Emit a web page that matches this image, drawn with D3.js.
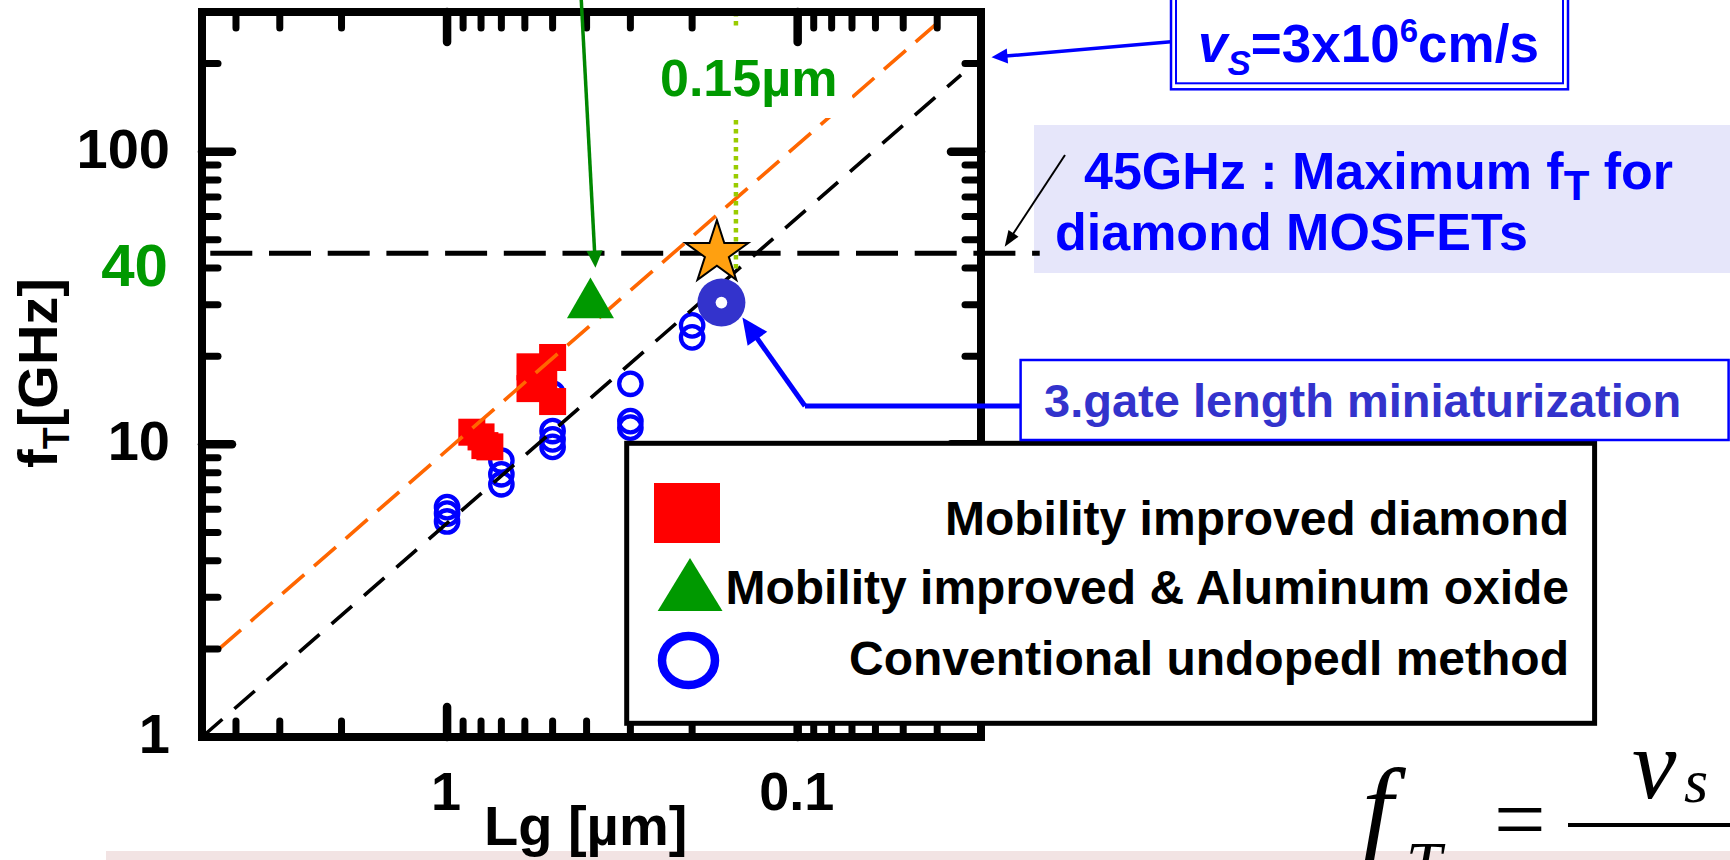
<!DOCTYPE html>
<html>
<head>
<meta charset="utf-8">
<script src="https://cdn.jsdelivr.net/npm/d3@7"></script>
<style>
  html, body { margin: 0; padding: 0; background: #ffffff; }
  svg { display: block; }
  text { font-family: "Liberation Sans", Arial, Helvetica, sans-serif; font-weight: bold; }
  .serif { font-family: "Liberation Serif", "Times New Roman", serif; font-weight: normal; font-style: italic; }
</style>
</head>
<body>
<svg id="chart" width="1730" height="860"></svg>
<script>
// ---------------- data ----------------
// gate length Lg [µm] and cut-off frequency fT [GHz]
const xTickValues = [1, 0.1];
const xTickLabels = ["1", "0.1"];
const yTickValues = [1, 10, 100];
const yTickLabels = ["1", "10", "100"];
const yMarkValue = 40;
const yMarkLabel = "40";

const seriesNames = [
  "Mobility improved diamond",
  "Mobility improved & Aluminum oxide",
  "Conventional undopedl method"
];

// conventional undoped devices (open circles)
const conventionalLg = [1, 1, 1, 0.7, 0.7, 0.7, 0.5, 0.5, 0.5, 0.5, 0.3, 0.3, 0.3, 0.2, 0.2];
const conventionalFt = [6.1, 5.8, 5.45, 8.8, 7.9, 7.3, 14.9, 11.1, 10.4, 9.8, 16.1, 12.0, 11.4, 25.5, 23.2];

// mobility improved diamond (filled squares)
const improvedLg = [0.85, 0.80, 0.78, 0.755, 0.58, 0.58, 0.53, 0.50, 0.50];
const improvedFt = [11.0, 10.6, 9.9, 9.8, 18.4, 15.5, 16.9, 19.8, 14.0];

// mobility improved + Al2O3 (triangle)
const aluminaLg = [0.39];
const aluminaFt = [30];

// gate length miniaturization result (filled disc)
const recordLg = [0.165];
const recordFt = [30.5];

// target device (star)
const targetLg = [0.17];
const targetFt = [45];

// maximum fT level and the 0.15 µm gate length marker
const maxFt = 45;
const maxFtLgRange = [5, 0.0204];
const gateMarkLg = 0.15;
const gateMarkFtRange = [300, 38.5];

// saturation-velocity guide lines
const vsLineLg = [5, 0.0342];
const vsLineFt = [1, 183];
const upperLineLg = [4.47, 0.0393];
const upperLineFt = [2, 280];

// ---------------- layout ----------------
const svg = d3.select("#chart");
const plot = { left: 202, right: 981, top: 12, bottom: 737 };

const x = d3.scaleLog().domain([5, 0.03]).range([plot.left, plot.right]);
const y = d3.scaleLog().domain([1, 300]).range([plot.bottom, plot.top]);

const BLUE = "#0000ff", SLATE = "#3333cc", RED = "#ff0000", GREEN = "#009900",
      ORANGE = "#ff6600", STAR = "#ffa010", LIME = "#99cc00";

function arrow(g, x1, y1, x2, y2, o) {
  const dx = x2 - x1, dy = y2 - y1, L = Math.hypot(dx, dy);
  const ux = dx / L, uy = dy / L;
  const bx = x2 - ux * o.head, by = y2 - uy * o.head;
  g.append("line")
    .attr("x1", x1).attr("y1", y1)
    .attr("x2", bx + ux * 2).attr("y2", by + uy * 2)
    .attr("stroke", o.color).attr("stroke-width", o.sw);
  g.append("path")
    .attr("d", `M${x2},${y2}L${bx - uy * o.w / 2},${by + ux * o.w / 2}L${bx + uy * o.w / 2},${by - ux * o.w / 2}Z`)
    .attr("fill", o.color);
}

// ---------------- background panels ----------------
svg.append("rect").attr("x", 106).attr("y", 851).attr("width", 1624).attr("height", 9)
  .attr("fill", "#f2e3e3");
svg.append("rect").attr("x", 1034).attr("y", 125).attr("width", 700).attr("height", 148)
  .attr("fill", "#e6e6fa");

// ---------------- data markers (small) ----------------
const conv = conventionalLg.map((d, i) => ({ lg: d, ft: conventionalFt[i] }));
svg.append("g").selectAll("circle").data(conv).join("circle")
  .attr("cx", d => x(d.lg)).attr("cy", d => y(d.ft)).attr("r", 11.2)
  .attr("fill", "none").attr("stroke", BLUE).attr("stroke-width", 4.3);

const impr = improvedLg.map((d, i) => ({ lg: d, ft: improvedFt[i] }));
const SQ = 27;
svg.append("g").selectAll("rect").data(impr).join("rect")
  .attr("x", d => x(d.lg) - SQ / 2).attr("y", d => y(d.ft) - SQ / 2)
  .attr("width", SQ).attr("height", SQ).attr("fill", RED);

// ---------------- guide lines ----------------
const line = d3.line().x(d => x(d[0])).y(d => y(d[1]));
svg.append("path").datum(vsLineLg.map((d, i) => [d, vsLineFt[i]]))
  .attr("d", line).attr("fill", "none").attr("stroke", "#000")
  .attr("stroke-width", 3.6).attr("stroke-dasharray", "27,16");
svg.append("path").datum(upperLineLg.map((d, i) => [d, upperLineFt[i]]))
  .attr("d", line).attr("fill", "none").attr("stroke", ORANGE)
  .attr("stroke-width", 3.6).attr("stroke-dasharray", "29,13");
svg.append("path").datum(maxFtLgRange.map(d => [d, maxFt]))
  .attr("d", line).attr("fill", "none").attr("stroke", "#000")
  .attr("stroke-width", 5).attr("stroke-dasharray", "42,16.7").attr("stroke-dashoffset", 50.4);
svg.append("path").datum(gateMarkFtRange.map(d => [gateMarkLg, d]))
  .attr("d", line).attr("fill", "none").attr("stroke", LIME)
  .attr("stroke-width", 4.5).attr("stroke-dasharray", "4.5,4.5");

// ---------------- data markers (large) ----------------
function triPath(cx, cy, s) {
  const h = s * Math.sqrt(3) / 2;
  return `M${cx},${cy - 2 * h / 3}L${cx + s / 2},${cy + h / 3}L${cx - s / 2},${cy + h / 3}Z`;
}
svg.append("g").selectAll("path").data(aluminaLg.map((d, i) => ({ lg: d, ft: aluminaFt[i] })))
  .join("path").attr("d", d => triPath(x(d.lg), y(d.ft), 47)).attr("fill", GREEN);

const rec = recordLg.map((d, i) => ({ lg: d, ft: recordFt[i] }));
svg.append("g").selectAll("circle").data(rec).join("circle")
  .attr("cx", d => x(d.lg)).attr("cy", d => y(d.ft)).attr("r", 24).attr("fill", SLATE);
svg.append("g").selectAll("circle").data(rec).join("circle")
  .attr("cx", d => x(d.lg)).attr("cy", d => y(d.ft)).attr("r", 5.8).attr("fill", "#fff");

const starSym = d3.symbol().type(d3.symbolStar).size(33 * 33 / 0.8908130915292852);
svg.append("g").selectAll("path").data(targetLg.map((d, i) => ({ lg: d, ft: targetFt[i] })))
  .join("path").attr("transform", d => `translate(${x(d.lg)},${y(d.ft)})`)
  .attr("d", starSym).attr("fill", STAR).attr("stroke", "#000").attr("stroke-width", 2)
  .attr("stroke-linejoin", "miter");

// 0.15 µm label with its white backing
svg.append("rect").attr("x", 650).attr("y", 30).attr("width", 202).attr("height", 88).attr("fill", "#fff");
svg.append("text").attr("x", 660).attr("y", 96).attr("font-size", 52).attr("fill", GREEN).text("0.15µm");

// ---------------- frame and ticks ----------------
function logTicks(lo, hi) {
  const out = [];
  for (let e = -3; e <= 3; e++) for (let k = 1; k <= 9; k++) {
    const v = +(k * Math.pow(10, e)).toPrecision(6);
    if (v > lo * 1.0001 && v < hi * 0.9999) out.push(v);
  }
  return out;
}
const isMajor = v => Math.abs(Math.log10(v) - Math.round(Math.log10(v))) < 1e-6;
const tlen = v => isMajor(v) ? 30 : 16;
const tw = v => isMajor(v) ? 8.5 : 7;
const xt = logTicks(0.03, 5), yt = logTicks(1, 300);
const ticks = svg.append("g").attr("stroke", "#000").attr("stroke-linecap", "round");
ticks.selectAll(".xb").data(xt).join("line")
  .attr("x1", d => x(d)).attr("x2", d => x(d)).attr("y1", plot.bottom).attr("y2", d => plot.bottom - tlen(d))
  .attr("stroke-width", tw);
ticks.selectAll(".xt").data(xt).join("line")
  .attr("x1", d => x(d)).attr("x2", d => x(d)).attr("y1", plot.top).attr("y2", d => plot.top + tlen(d))
  .attr("stroke-width", tw);
ticks.selectAll(".yl").data(yt).join("line")
  .attr("y1", d => y(d)).attr("y2", d => y(d)).attr("x1", plot.left).attr("x2", d => plot.left + tlen(d))
  .attr("stroke-width", tw);
ticks.selectAll(".yr").data(yt).join("line")
  .attr("y1", d => y(d)).attr("y2", d => y(d)).attr("x1", plot.right).attr("x2", d => plot.right - tlen(d))
  .attr("stroke-width", tw);
svg.append("rect").attr("x", plot.left).attr("y", plot.top)
  .attr("width", plot.right - plot.left).attr("height", plot.bottom - plot.top)
  .attr("fill", "none").attr("stroke", "#000").attr("stroke-width", 8);

// tick labels
svg.append("g").selectAll("text").data(yTickValues).join("text")
  .attr("x", 170).attr("y", d => y(d) + 16).attr("text-anchor", "end").attr("font-size", 56)
  .text((d, i) => yTickLabels[i]);
svg.append("text").attr("x", 168).attr("y", y(yMarkValue) + 18).attr("text-anchor", "end")
  .attr("font-size", 60).attr("fill", GREEN).text(yMarkLabel);
svg.append("g").selectAll("text").data(xTickValues).join("text")
  .attr("x", d => x(d) - 1).attr("y", 810).attr("text-anchor", "middle").attr("font-size", 54)
  .text((d, i) => xTickLabels[i]);

// axis titles
svg.append("text").attr("x", 484).attr("y", 845).attr("font-size", 56).text("Lg [µm]");
const yTitle = svg.append("text").attr("transform", "translate(57,373) rotate(-90)")
  .attr("text-anchor", "middle").attr("font-size", 56);
yTitle.append("tspan").text("f");
yTitle.append("tspan").attr("font-size", 36).attr("dy", 12).text("T");
yTitle.append("tspan").attr("dy", -12).text("[GHz]");

// ---------------- legend ----------------
const lg = svg.append("g");
lg.append("rect").attr("x", 626.7).attr("y", 443.3).attr("width", 967.9).attr("height", 280)
  .attr("fill", "#fff").attr("stroke", "#000").attr("stroke-width", 5);
lg.append("rect").attr("x", 654).attr("y", 483).attr("width", 66).attr("height", 60).attr("fill", RED);
lg.append("path").attr("d", "M690,558L722.5,611L657.7,611Z").attr("fill", GREEN);
lg.append("ellipse").attr("cx", 688.5).attr("cy", 660.5).attr("rx", 26.5).attr("ry", 24.5)
  .attr("fill", "none").attr("stroke", BLUE).attr("stroke-width", 8.5);
const legendBaselines = [535, 604, 675];
lg.selectAll("text").data(seriesNames).join("text")
  .attr("x", 1569).attr("y", (d, i) => legendBaselines[i]).attr("text-anchor", "end")
  .attr("font-size", 48).text(d => d);

// ---------------- annotations ----------------
const ann = svg.append("g");

// green arrow onto the Al2O3 point
{
  const tx = x(aluminaLg[0]) + 5, ty = y(aluminaFt[0]) - 37;
  arrow(ann, 581, -5, tx, ty, { color: "#008800", sw: 3.5, head: 17, w: 16 });
}

// saturation velocity box
ann.append("rect").attr("x", 1171).attr("y", -10).attr("width", 397).attr("height", 99.3)
  .attr("fill", "#fff").attr("stroke", BLUE).attr("stroke-width", 2.5);
ann.append("rect").attr("x", 1176).attr("y", -10).attr("width", 387).attr("height", 93.3)
  .attr("fill", "none").attr("stroke", BLUE).attr("stroke-width", 2);
{
  const t = ann.append("text").attr("x", 1198).attr("y", 61.7).attr("font-size", 53).attr("fill", BLUE);
  t.append("tspan").attr("font-style", "italic").text("v");
  t.append("tspan").attr("font-style", "italic").attr("font-size", 35).attr("dy", 13).text("S");
  t.append("tspan").attr("dy", -13).text("=3x10");
  t.append("tspan").attr("font-size", 33).attr("dy", -20).text("6");
  t.append("tspan").attr("dy", 20).text("cm/s");
}
arrow(ann, 1171, 41.7, 991.5, 57.3, { color: BLUE, sw: 3.5, head: 16, w: 15 });

// maximum fT note
{
  const t1 = ann.append("text").attr("x", 1084).attr("y", 189).attr("font-size", 52).attr("fill", BLUE);
  t1.append("tspan").text("45GHz : Maximum f");
  t1.append("tspan").attr("font-size", 42).attr("dy", 11).text("T");
  t1.append("tspan").attr("dy", -11).text(" for");
  ann.append("text").attr("x", 1055).attr("y", 250).attr("font-size", 52).attr("fill", BLUE)
    .text("diamond MOSFETs");
}
arrow(ann, 1065, 155, 1004.7, 246.7, { color: "#000", sw: 2, head: 16, w: 12 });

// gate length miniaturization note
ann.append("rect").attr("x", 1020.6).attr("y", 360).attr("width", 708).attr("height", 80)
  .attr("fill", "#fff").attr("stroke", BLUE).attr("stroke-width", 2.5);
ann.append("text").attr("x", 1044).attr("y", 416.7).attr("font-size", 47).attr("fill", SLATE)
  .text("3.gate length miniaturization");
{
  const cx = x(recordLg[0]), cy = y(recordFt[0]);
  const tipX = cx + 21, tipY = cy + 15;
  ann.append("line").attr("x1", 1020).attr("y1", 406).attr("x2", 805).attr("y2", 406)
    .attr("stroke", BLUE).attr("stroke-width", 5);
  arrow(ann, 805, 406, tipX, tipY, { color: BLUE, sw: 5, head: 26, w: 24 });
}

// formula fT = vs / ...
{
  const f = ann.append("g").attr("fill", "#000");
  f.append("text").attr("class", "serif").attr("x", 1362).attr("y", 846).attr("font-size", 112).text("f");
  f.append("text").attr("class", "serif").attr("x", 1406).attr("y", 886).attr("font-size", 64).text("T");
  f.append("text").attr("class", "serif").attr("x", 1488).attr("y", 850).attr("font-size", 92)
    .attr("font-style", "normal").text("=");
  f.append("line").attr("x1", 1568).attr("y1", 825).attr("x2", 1740).attr("y2", 825)
    .attr("stroke", "#000").attr("stroke-width", 4);
  f.append("text").attr("class", "serif").attr("x", 1632).attr("y", 798).attr("font-size", 100).text("v");
  f.append("text").attr("class", "serif").attr("x", 1684).attr("y", 802).attr("font-size", 62).text("s");
}
</script>
</body>
</html>
